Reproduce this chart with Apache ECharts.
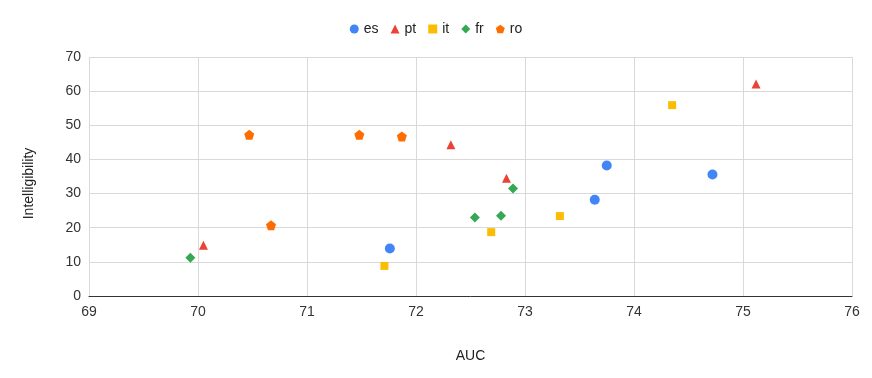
<!DOCTYPE html>
<html><head><meta charset="utf-8">
<script src="https://cdn.jsdelivr.net/npm/echarts@6/dist/echarts.min.js"></script>
<style>html,body{margin:0;padding:0;background:#fff}#c{width:872px;height:378px}</style>
</head><body><div id="c"></div>
<script>
const seriesNames = ['es','pt','it','fr','ro'];
const esData = [[71.76,13.9],[73.64,28.2],[73.75,38.2],[74.72,35.6]];
const ptData = [[70.05,14.9],[72.32,44.3],[72.83,34.5],[75.12,62.1]];
const itData = [[71.71,8.8],[72.69,18.7],[73.32,23.4],[74.35,55.9]];
const frData = [[69.93,11.2],[72.54,23.0],[72.78,23.5],[72.89,31.5]];
const roData = [[70.47,47.2],[70.67,20.7],[71.48,47.2],[71.87,46.7]];
const xTicks = [69,70,71,72,73,74,75,76];
const yTicks = [0,10,20,30,40,50,60,70];

const colors = ['#4285F4','#EA4335','#FBBC04','#34A853','#FF6D01'];
const pent = 'path://M50,0 L97.6,34.5 L79.4,90.5 L20.6,90.5 L2.4,34.5 Z';
const symbols = ['circle','triangle','rect','diamond',pent];
const sizes = [10,9,8,10,10];
const datas = [esData,ptData,itData,frData,roData];
const font = 'Arial, "Liberation Sans", sans-serif';

const chart = echarts.init(document.getElementById('c'));
chart.setOption({
  animation:false,
  color: colors,
  textStyle:{fontFamily:font},
  legend:{
    top:17, left:'center', itemWidth:9, itemHeight:9, itemGap:12,
    textStyle:{fontSize:14, color:'#222', fontFamily:font},
    data: seriesNames.map((n,i)=>({name:n, icon: symbols[i]}))
  },
  grid:{left:89, right:20, top:57, bottom:82, containLabel:false},
  xAxis:{
    type:'value', min:xTicks[0], max:xTicks[xTicks.length-1], interval:1,
    name:'AUC', nameLocation:'middle', nameGap:53,
    nameTextStyle:{fontSize:14, color:'#222', fontFamily:font},
    axisLine:{show:true, onZero:false, lineStyle:{color:'#333', width:1}},
    axisTick:{show:false},
    axisLabel:{fontSize:14, color:'#333', margin:9, fontFamily:font},
    splitLine:{show:true, lineStyle:{color:'#d9d9d9', width:1}}
  },
  yAxis:{
    type:'value', min:yTicks[0], max:yTicks[yTicks.length-1], interval:10,
    name:'Intelligibility', nameLocation:'middle', nameGap:53, nameRotate:90,
    nameTextStyle:{fontSize:14, color:'#222', fontFamily:font, padding:[0,14,0,0]},
    axisLine:{show:false}, axisTick:{show:false},
    axisLabel:{fontSize:14, color:'#333', margin:8, fontFamily:font},
    splitLine:{show:true, lineStyle:{color:'#d9d9d9', width:1}}
  },
  series: seriesNames.map((n,i)=>({
    name:n, type:'scatter', data:datas[i], symbol:symbols[i], symbolSize:sizes[i],
    itemStyle:{color:colors[i], opacity:1}
  }))
});
</script></body></html>
